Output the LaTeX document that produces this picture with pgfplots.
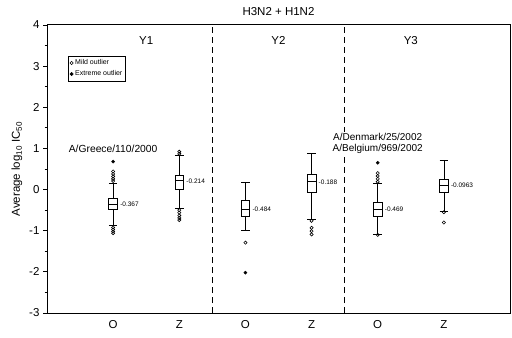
\documentclass[border=0pt]{standalone}
\usepackage{fontspec}
\setmainfont{Liberation Sans}
\usepackage{pgfplots}
\pgfplotsset{compat=1.18}
\usepgfplotslibrary{statistics}
\usetikzlibrary{calc}
\begin{document}
\begin{tikzpicture}
\begin{axis}[
  scale only axis, width=463pt, height=288pt,
  xmin=0, xmax=7, ymin=-3, ymax=4,
  xtick={1,...,6}, xticklabels={O,Z,O,Z,O,Z},
  major x tick style={draw=none},
  ytick={-3,...,4}, minor ytick={-2.5,-1.5,...,3.5},
  ytick pos=left, tick align=outside,
  major tick length=4pt, minor tick length=2.5pt,
  axis line style={line width=1pt},
  every tick/.style={black, line width=0.8pt},
  /pgf/number format/assume math mode=true,
  tick label style={font=\fontsize{11.5}{12}\selectfont},
  ylabel={Average log\textsubscript{10} IC\textsubscript{50}},
  ylabel style={font=\fontsize{11.5}{12}\selectfont},
  title={H3N2 + H1N2},
  title style={font=\fontsize{11.5}{12}\selectfont},
  legend entries={Mild outlier, Extreme outlier},
  legend style={at={(axis cs:0.32,3.25)}, anchor=north west,
    font=\fontsize{7}{9}\selectfont, draw=black, line width=0.7pt,
    inner sep=1.5pt, row sep=0.5pt, cells={anchor=west}},
  legend image code/.code={\draw[line width=0.5pt] plot coordinates {(0.12cm,0cm)};},
  boxplot/draw direction=y,
  boxplot/box extend=0.13, boxplot/whisker extend=0.13,
]
% boxes
\addplot[black, line width=0.7pt, forget plot, boxplot prepared={draw position=1,
  median=-0.367, lower quartile=-0.48, upper quartile=-0.21,
  lower whisker=-0.87, upper whisker=0.16}] coordinates {};
\addplot[black, line width=0.7pt, forget plot, boxplot prepared={draw position=2,
  median=0.214, lower quartile=0.01, upper quartile=0.35,
  lower whisker=-0.45, upper whisker=0.84}] coordinates {};
\addplot[black, line width=0.7pt, forget plot, boxplot prepared={draw position=3,
  median=-0.484, lower quartile=-0.64, upper quartile=-0.25,
  lower whisker=-1.0, upper whisker=0.18}] coordinates {};
\addplot[black, line width=0.7pt, forget plot, boxplot prepared={draw position=4,
  median=0.188, lower quartile=-0.07, upper quartile=0.38,
  lower whisker=-0.72, upper whisker=0.88}] coordinates {};
\addplot[black, line width=0.7pt, forget plot, boxplot prepared={draw position=5,
  median=-0.469, lower quartile=-0.66, upper quartile=-0.31,
  lower whisker=-1.08, upper whisker=0.16}] coordinates {};
\addplot[black, line width=0.7pt, forget plot, boxplot prepared={draw position=6,
  median=0.0963, lower quartile=-0.07, upper quartile=0.26,
  lower whisker=-0.54, upper whisker=0.70}] coordinates {};
% mild outliers
\addplot[only marks, mark=o, mark size=1.6pt, black, mark options={line width=0.6pt}] coordinates {
  (1,0.44)(1,0.38)(1,0.32)(1,0.26)(1,0.21)(1,-0.92)(1,-0.97)(1,-1.02)(1,-1.06)
  (2,0.92)(2,0.87)(2,-0.50)(2,-0.56)(2,-0.63)(2,-0.69)(2,-0.74)
  (3,-1.29)
  (4,-0.76)(4,-0.93)(4,-1.01)(4,-1.09)
  (5,0.40)(5,0.33)(5,0.26)(5,0.19)(5,-1.10)
  (6,-0.55)(6,-0.80)
};
% extreme outliers
\addplot[only marks, mark=*, mark size=1.6pt, black] coordinates {
  (1,0.68)(3,-2.02)(5,0.65)
};
% separators
\draw[line width=1pt, dash pattern=on 6pt off 4pt] (axis cs:2.5,-3) -- (axis cs:2.5,4);
\draw[line width=1pt, dash pattern=on 6pt off 4pt] (axis cs:4.5,-3) -- (axis cs:4.5,4);
% group labels
\node[font=\fontsize{11.5}{12}\selectfont] at (axis cs:1.5,3.63) {Y1};
\node[font=\fontsize{11.5}{12}\selectfont] at (axis cs:3.5,3.63) {Y2};
\node[font=\fontsize{11.5}{12}\selectfont] at (axis cs:5.5,3.63) {Y3};
% median labels
\node[anchor=west, font=\fontsize{6.5}{7}\selectfont, inner sep=1pt] at (axis cs:1.09,-0.367) {-0.367};
\node[anchor=west, font=\fontsize{6.5}{7}\selectfont, inner sep=1pt] at (axis cs:2.09,0.214) {-0.214};
\node[anchor=west, font=\fontsize{6.5}{7}\selectfont, inner sep=1pt] at (axis cs:3.09,-0.484) {-0.484};
\node[anchor=west, font=\fontsize{6.5}{7}\selectfont, inner sep=1pt] at (axis cs:4.09,0.188) {-0.188};
\node[anchor=west, font=\fontsize{6.5}{7}\selectfont, inner sep=1pt] at (axis cs:5.09,-0.469) {-0.469};
\node[anchor=west, font=\fontsize{6.5}{7}\selectfont, inner sep=1pt] at (axis cs:6.09,0.0963) {-0.0963};
% strain annotations
\node[font=\fontsize{10.3}{11}\selectfont] at (axis cs:1,1.0) {A/Greece/110/2000};
\node[font=\fontsize{10}{11}\selectfont, align=center, fill=white, inner sep=1pt] at (axis cs:5,1.12) {A/Denmark/25/2002\\A/Belgium/969/2002};
\end{axis}
\pgfresetboundingbox
\path ($(current axis.south west)+(-47pt,-24pt)$) rectangle ($(current axis.north east)+(2pt,25pt)$);
\end{tikzpicture}
\end{document}
